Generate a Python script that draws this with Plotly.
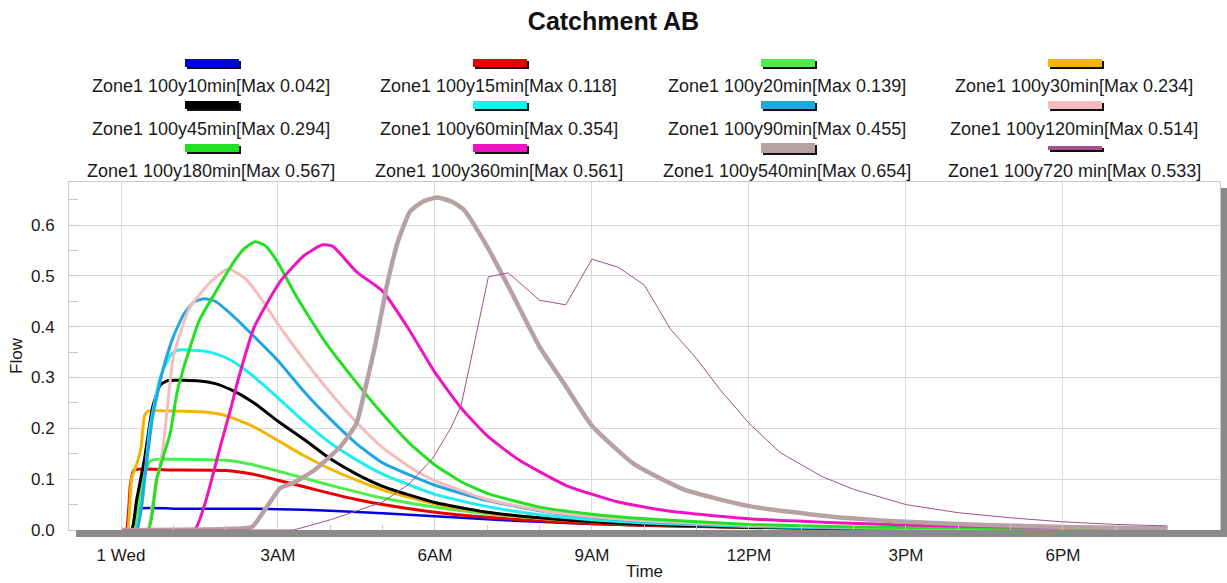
import plotly.graph_objects as go

# ---------------- data (hours after 1 Wed 00:00, flow) ----------------
t_10 = [0, 0.2, 0.28, 0.36, 1.0, 2.0, 2.6, 3.0, 3.5, 4.0, 5.0, 6.0, 7.0, 8.0, 9.0, 10.0, 11.0, 12.0, 14.0, 16.0, 18.0, 20.0]
q_10 = [0, 0, 0.025, 0.042, 0.042, 0.042, 0.042, 0.041, 0.040, 0.038, 0.033, 0.027, 0.021, 0.016, 0.012, 0.009, 0.007, 0.005, 0.003, 0.002, 0.001, 0.001]

t_15 = [0, 0.1, 0.18, 0.25, 1.0, 2.0, 2.5, 3.0, 3.5, 4.0, 4.5, 5.0, 6.0, 7.0, 8.0, 9.0, 10.0, 12.0, 14.0, 16.0, 18.0, 20.0]
q_15 = [0, 0, 0.09, 0.118, 0.118, 0.117, 0.110, 0.098, 0.085, 0.072, 0.060, 0.050, 0.035, 0.025, 0.018, 0.013, 0.009, 0.005, 0.003, 0.002, 0.001, 0.001]

t_20 = [0, 0.25, 0.35, 0.45, 0.55, 0.65, 1.0, 2.0, 2.5, 3.0, 3.5, 4.0, 4.5, 5.0, 6.0, 7.0, 8.0, 9.0, 10.0, 12.0, 14.0, 16.0, 18.0, 20.0]
q_20 = [0, 0, 0.06, 0.11, 0.135, 0.139, 0.139, 0.137, 0.129, 0.116, 0.102, 0.088, 0.075, 0.063, 0.045, 0.032, 0.023, 0.017, 0.012, 0.006, 0.003, 0.002, 0.001, 0.001]

t_30 = [0, 0.12, 0.2, 0.3, 0.38, 0.45, 0.52, 1.0, 1.6, 2.0, 2.5, 3.0, 3.5, 4.0, 4.5, 5.0, 6.0, 7.0, 8.0, 9.0, 10.0, 12.0, 14.0, 16.0, 18.0, 20.0]
q_30 = [0, 0, 0.1, 0.13, 0.16, 0.225, 0.234, 0.234, 0.232, 0.225, 0.205, 0.176, 0.146, 0.12, 0.098, 0.079, 0.051, 0.034, 0.023, 0.016, 0.011, 0.005, 0.003, 0.002, 0.001, 0.001]

t_45 = [0, 0.2, 0.3, 0.45, 0.6, 0.75, 0.9, 1.5, 1.8, 2.1, 2.5, 3.0, 3.5, 4.0, 4.5, 5.0, 6.0, 7.0, 8.0, 9.0, 10.0, 12.0, 14.0, 16.0, 18.0, 20.0]
q_45 = [0, 0, 0.06, 0.14, 0.24, 0.285, 0.294, 0.293, 0.288, 0.276, 0.253, 0.214, 0.178, 0.14, 0.11, 0.086, 0.054, 0.035, 0.024, 0.016, 0.011, 0.005, 0.003, 0.002, 0.001, 0.001]

t_60 = [0, 0.28, 0.4, 0.55, 0.75, 0.95, 1.1, 1.5, 1.8, 2.1, 2.5, 3.0, 3.5, 4.0, 4.5, 5.0, 6.0, 7.0, 8.0, 9.0, 10.0, 12.0, 14.0, 16.0, 18.0, 20.0]
q_60 = [0, 0, 0.05, 0.2, 0.3, 0.345, 0.354, 0.353, 0.347, 0.334, 0.305, 0.26, 0.213, 0.171, 0.138, 0.11, 0.07, 0.046, 0.03, 0.02, 0.014, 0.007, 0.004, 0.002, 0.001, 0.001]

t_90 = [0, 0.3, 0.45, 0.6, 0.8, 1.0, 1.2, 1.4, 1.6, 1.8, 2.1, 2.5, 3.0, 3.5, 4.0, 4.5, 5.0, 6.0, 7.0, 8.0, 9.0, 10.0, 12.0, 14.0, 16.0, 18.0, 20.0]
q_90 = [0, 0, 0.1, 0.22, 0.315, 0.38, 0.425, 0.449, 0.455, 0.45, 0.425, 0.385, 0.333, 0.272, 0.218, 0.17, 0.132, 0.088, 0.058, 0.038, 0.025, 0.017, 0.008, 0.004, 0.002, 0.001, 0.001]

t_120 = [0, 0.5, 0.6, 0.8, 1.0, 1.3, 1.7, 2.05, 2.4, 2.7, 3.0, 3.5, 4.0, 4.5, 5.0, 5.5, 6.0, 7.0, 8.0, 9.0, 10.0, 12.0, 14.0, 16.0, 18.0, 20.0]
q_120 = [0, 0, 0.05, 0.16, 0.34, 0.435, 0.487, 0.514, 0.492, 0.452, 0.405, 0.335, 0.27, 0.212, 0.162, 0.125, 0.097, 0.06, 0.039, 0.026, 0.018, 0.009, 0.005, 0.003, 0.002, 0.001]

t_180 = [0, 0.52, 0.68, 0.94, 1.07, 1.26, 1.5, 1.83, 2.14, 2.35, 2.56, 2.75, 2.97, 3.35, 3.9, 4.5, 5.0, 5.5, 6.0, 6.5, 7.0, 8.0, 9.0, 10.0, 12.0, 14.0, 16.0, 18.0, 20.0]
q_180 = [0, 0, 0.1, 0.19, 0.27, 0.34, 0.413, 0.472, 0.525, 0.553, 0.567, 0.56, 0.531, 0.46, 0.37, 0.29, 0.228, 0.172, 0.128, 0.095, 0.072, 0.045, 0.031, 0.022, 0.011, 0.006, 0.004, 0.002, 0.001]

t_360 = [0, 1.4, 1.6, 1.9, 2.1, 2.25, 2.55, 3.05, 3.5, 3.85, 4.05, 4.5, 5.0, 5.5, 6.0, 6.5, 7.0, 7.6, 8.5, 9.5, 10.5, 12.0, 13.5, 15.0, 16.5, 18.0, 20.0]
q_360 = [0, 0, 0.05, 0.165, 0.24, 0.3, 0.40, 0.49, 0.54, 0.561, 0.558, 0.508, 0.47, 0.395, 0.31, 0.24, 0.185, 0.138, 0.088, 0.055, 0.037, 0.022, 0.015, 0.01, 0.007, 0.005, 0.003]

t_540 = [0, 2.0, 2.5, 2.75, 3.05, 3.3, 3.7, 4.2, 4.5, 4.65, 4.85, 5.1, 5.3, 5.52, 5.75, 6.03, 6.3, 6.55, 7.0, 7.5, 8.0, 8.5, 9.0, 9.8, 10.75, 12.0, 13.5, 15.0, 16.5, 18.0, 20.0]
q_540 = [0, 0.002, 0.006, 0.04, 0.083, 0.093, 0.118, 0.165, 0.21, 0.27, 0.36, 0.49, 0.57, 0.626, 0.645, 0.654, 0.647, 0.63, 0.557, 0.46, 0.36, 0.283, 0.205, 0.13, 0.08, 0.047, 0.027, 0.016, 0.01, 0.006, 0.003]

t_720 = [0, 3.3, 4.0, 5.0, 5.5, 5.95, 6.3, 6.5, 6.8, 7.02, 7.4, 8.0, 8.5, 9.0, 9.5, 10.0, 10.5, 11.0, 11.45, 12.0, 12.6, 13.4, 14.0, 15.0, 16.0, 17.0, 18.0, 19.0, 20.0]
q_720 = [0, 0, 0.02, 0.055, 0.09, 0.14, 0.2, 0.245, 0.39, 0.498, 0.506, 0.452, 0.443, 0.533, 0.517, 0.482, 0.395, 0.337, 0.276, 0.21, 0.152, 0.105, 0.08, 0.05, 0.034, 0.024, 0.016, 0.011, 0.008]

series_names = [
    "Zone1 100y10min[Max 0.042]", "Zone1 100y15min[Max 0.118]", "Zone1 100y20min[Max 0.139]", "Zone1 100y30min[Max 0.234]",
    "Zone1 100y45min[Max 0.294]", "Zone1 100y60min[Max 0.354]", "Zone1 100y90min[Max 0.455]", "Zone1 100y120min[Max 0.514]",
    "Zone1 100y180min[Max 0.567]", "Zone1 100y360min[Max 0.561]", "Zone1 100y540min[Max 0.654]", "Zone1 100y720 min[Max 0.533]",
]
series_t = [t_10, t_15, t_20, t_30, t_45, t_60, t_90, t_120, t_180, t_360, t_540, t_720]
series_q = [q_10, q_15, q_20, q_30, q_45, q_60, q_90, q_120, q_180, q_360, q_540, q_720]

tick_hours = [0, 3, 6, 9, 12, 15, 18]
tick_labels = ["1 Wed", "3AM", "6AM", "9AM", "12PM", "3PM", "6PM"]

# ---------------- styles ----------------
colors = ["#0000e0", "#e80000", "#4cee4c", "#f5b400", "#000000", "#1eeeee",
          "#22a6e2", "#f4bcbc", "#22e022", "#ee14c0", "#b8a1a3", "#a2508e"]
widths = [2.5, 3, 3, 3, 3, 3, 3, 3, 3, 3, 4.5, 1]
bar_h = [8, 8, 8, 8, 8, 8, 8, 8, 8, 8, 10, 4]

W, H = 1227, 583
L, R, T, B = 69, 7, 182, 53
PW = W - L - R
PH = H - T - B
FONT = "Liberation Sans, Arial, sans-serif"


def xp(px):
    return (px - L) / PW


def yp(py):
    return (H - B - py) / PH


fig = go.Figure()
for name, t, q, c, w in zip(series_names, series_t, series_q, colors, widths):
    shape = "linear" if w < 2 else "spline"
    fig.add_trace(go.Scatter(
        x=t, y=q, mode="lines", name=name, showlegend=False,
        line=dict(color=c, width=w, shape=shape, smoothing=0.5),
    ))

# custom legend: coloured bar above centred text, 4 columns x 3 rows
col_cx = [211, 499, 787, 1074]
row_text_cy = [86, 129, 171]
row_bar_cy = [63, 105, 148]
shapes = []
annotations = []
for i, (name, c, bh) in enumerate(zip(series_names, colors, bar_h)):
    r, k = divmod(i, 4)
    cx = col_cx[k] + 1
    cy = row_bar_cy[r]
    hw = 27
    shapes.append(dict(type="rect", xref="paper", yref="paper",
                       x0=xp(cx - hw + 2), x1=xp(cx + hw + 2),
                       y0=yp(cy + bh / 2 + 2), y1=yp(cy - bh / 2 + 2),
                       fillcolor="#111111", line=dict(width=0), layer="above"))
    shapes.append(dict(type="rect", xref="paper", yref="paper",
                       x0=xp(cx - hw), x1=xp(cx + hw),
                       y0=yp(cy + bh / 2), y1=yp(cy - bh / 2),
                       fillcolor=c, line=dict(width=0), layer="above"))
    annotations.append(dict(text=name, xref="paper", yref="paper",
                            x=xp(col_cx[k]), y=yp(row_text_cy[r]),
                            xanchor="center", yanchor="middle", showarrow=False,
                            font=dict(family=FONT, size=18, color="#1a1a1a")))

# shadow frame (bottom and right)
shapes.append(dict(type="rect", xref="paper", yref="paper",
                   x0=xp(76), x1=xp(1227), y0=yp(537), y1=yp(530),
                   fillcolor="#8a8a8a", line=dict(width=0), layer="above"))
shapes.append(dict(type="rect", xref="paper", yref="paper",
                   x0=xp(1221), x1=xp(1227), y0=yp(537), y1=yp(188),
                   fillcolor="#8a8a8a", line=dict(width=0), layer="above"))

fig.update_layout(
    width=W, height=H,
    margin=dict(l=L, r=R, t=T, b=B, pad=0, autoexpand=False),
    paper_bgcolor="white", plot_bgcolor="white",
    font=dict(family=FONT, size=17, color="#1a1a1a"),
    title=dict(text="<b>Catchment AB</b>", x=0.5, xref="container", xanchor="center",
               y=1 - 21 / H, yref="container", yanchor="middle",
               font=dict(family=FONT, size=25, color="#111111")),
    shapes=shapes, annotations=annotations,
)

fig.update_xaxes(
    automargin=False,
    range=[-52 / 52.33, 1151 / 52.33 - 52 / 52.33],
    tickvals=tick_hours, ticktext=tick_labels,
    showgrid=True, gridcolor="#d9d9d9", gridwidth=1,
    showline=True, linecolor="#c8c8c8", linewidth=1, mirror=True,
    ticks="inside", ticklen=5, tickcolor="#c8c8c8",
    minor=dict(dtick=1, tick0=0, ticks="inside", ticklen=5, tickcolor="#c8c8c8", showgrid=False),
    ticklabelstandoff=10,
    zeroline=False,
    title=dict(text="Time", standoff=0, font=dict(family=FONT, size=17)),
)
fig.update_yaxes(
    automargin=False,
    range=[0, 348 / 508.3],
    tickvals=[0, 0.1, 0.2, 0.3, 0.4, 0.5, 0.6], tickformat=".1f",
    showgrid=True, gridcolor="#d9d9d9", gridwidth=1,
    showline=True, linecolor="#c8c8c8", linewidth=1, mirror=True,
    ticks="inside", ticklen=9, tickcolor="#c8c8c8",
    minor=dict(dtick=0.05, tick0=0, ticks="inside", ticklen=9, tickcolor="#c8c8c8", showgrid=False),
    ticklabelstandoff=10,
    zeroline=False,
    title=dict(text="Flow", standoff=4, font=dict(family=FONT, size=17)),
)

fig.write_html("out.html", config={"displayModeBar": False},
               post_script="document.body.style.margin='0';document.body.style.overflow='hidden';")
